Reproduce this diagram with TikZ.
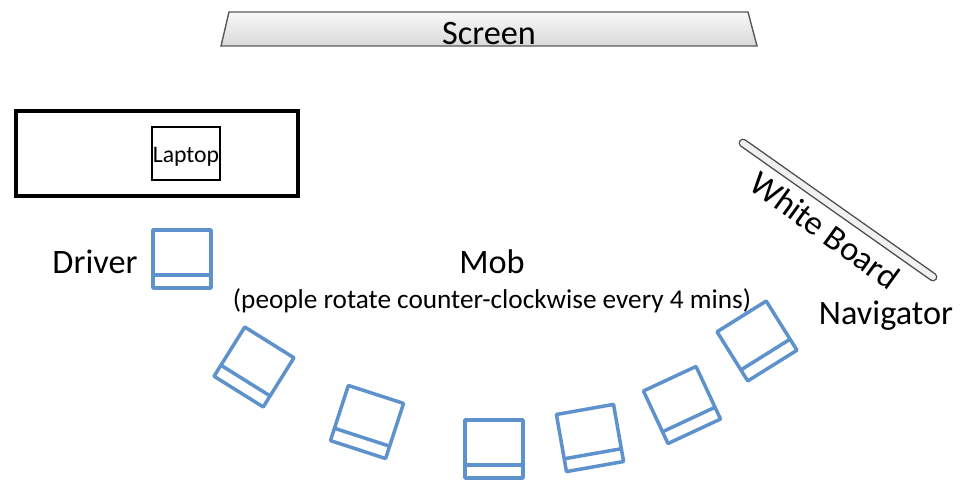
\documentclass[tikz,border=0pt]{standalone}
\usepackage{fontspec}
\setmainfont{Carlito}
\usetikzlibrary{positioning,shapes}
\definecolor{seatblue}{RGB}{94,146,204}

\begin{document}
\begin{tikzpicture}[x=0.02cm, y=-0.02cm,
  seat/.pic={\draw[seatblue, line width=2pt, line join=round] (-29,-29) rectangle (29,29);
             \draw[seatblue, line width=2pt] (-29,16) -- (29,16);},
  big text/.style={font=\fontsize{19.5}{22}\selectfont, inner sep=0pt}]
\useasboundingbox (0,0) rectangle (961,480);
% screen and table
\draw[draw=gray!70!black, top color=gray!5, bottom color=gray!30, line width=0.8pt] (229,12) -- (748,12) -- (757,46) -- (221,46) -- cycle;
\node[big text] (screen) at (489,34) {Screen};
\draw[line width=1.8pt] (16,111) rectangle (298,196);
\draw[line width=1.6pt] (152,127) rectangle (220,180);
\node[font=\fontsize{13.5}{15}\selectfont, inner sep=0pt] (laptop) at (186,157) {Laptop};
% white board
\draw[draw=gray!60!black, double=gray!12, double distance=3.4pt, line width=0.8pt, line cap=round] (743,143) -- (933,277);
\node[big text, rotate=-36] (board) at (825,230) {White Board};
% seats
\pic at (182,259) {seat};
\pic[rotate=-32] at (254,367) {seat};
\pic[rotate=-18] at (367,422) {seat};
\pic at (494,449) {seat};
\pic[rotate=10] at (590,438) {seat};
\pic[rotate=25] at (682,405) {seat};
\pic[rotate=32] at (757,341) {seat};
% people
\begin{scope}[every node/.style={big text}]
\node (driver) at (95,262) {Driver};
\node (mob) at (492,262) {Mob};
\node (navigator) at (886,316) {Navigator};
\end{scope}
\node[font=\fontsize{15.5}{18}\selectfont, inner sep=0pt, below=8pt of mob] (note) {(people rotate counter-clockwise every 4 mins)};
\end{tikzpicture}
\end{document}
